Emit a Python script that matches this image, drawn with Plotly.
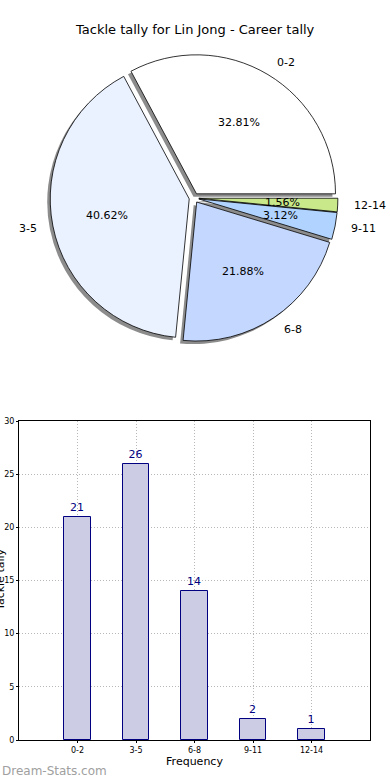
import math
import plotly.graph_objects as go

# ---------------- data ----------------
categories = ["0-2", "3-5", "6-8", "9-11", "12-14"]
counts = [21, 26, 14, 2, 1]
pie_colors = ["#FFFFFF", "#EAF1FF", "#C4D8FF", "#B0D4FF", "#C8E88A"]
y_ticks = [0, 5, 10, 15, 20, 25, 30]

title_text = "Tackle tally for Lin Jong - Career tally"
x_title = "Frequency"
y_title = "Tackle tally"
watermark = "Dream-Stats.com"

# ---------------- layout geometry ----------------
W, H = 390, 780
PIE_CX, PIE_CY, PIE_R = 194, 198, 139
PULL = 0.035
SHADOW = 3
FONT = "DejaVu Sans"

half = PIE_R * (1 + PULL)
pie_dom_x = [(PIE_CX - half) / W, (PIE_CX + half) / W]
pie_dom_y = [1 - (PIE_CY + half) / H, 1 - (PIE_CY - half) / H]

total = sum(counts)
pct_text = [f"{c / total * 100:.2f}%" for c in counts]
# first slice starts at 3 o'clock and runs counter-clockwise
rotation = 90 - counts[0] / total * 360

fig = go.Figure()

# shadow pie
fig.add_trace(go.Pie(
    labels=categories, values=counts, sort=False, direction="counterclockwise",
    rotation=rotation, pull=[PULL] * len(counts),
    marker=dict(colors=["#8c8c8c"] * len(counts), line=dict(width=0)),
    textinfo="none", hoverinfo="skip", showlegend=False,
    domain=dict(x=[pie_dom_x[0] - SHADOW / W, pie_dom_x[1] - SHADOW / W],
                y=[pie_dom_y[0] - SHADOW / H, pie_dom_y[1] - SHADOW / H]),
))

# main pie
fig.add_trace(go.Pie(
    labels=categories, values=counts, sort=False, direction="counterclockwise",
    rotation=rotation, pull=[PULL] * len(counts),
    marker=dict(colors=pie_colors, line=dict(color="black", width=0.8)),
    textinfo="none", showlegend=False,
    domain=dict(x=pie_dom_x, y=pie_dom_y),
))

# labels for the pie, positioned from the data angles
cum = 0
for cat, c, pt in zip(categories, counts, pct_text):
    mid = (cum + c / 2) / total * 2 * math.pi
    cum += c
    ca, sa = math.cos(mid), math.sin(mid)
    rp = (0.6 + PULL) * PIE_R
    fig.add_annotation(
        x=(PIE_CX + rp * ca) / W, y=1 - (PIE_CY - rp * sa) / H,
        xref="paper", yref="paper", text=pt, showarrow=False,
        xanchor="center", yanchor="middle",
        font=dict(family=FONT, size=11, color="black"))
    rl = (1.1 + PULL) * PIE_R
    fig.add_annotation(
        x=(PIE_CX + rl * ca) / W, y=1 - (PIE_CY - rl * sa) / H,
        xref="paper", yref="paper", text=cat, showarrow=False,
        xanchor="left" if ca > 0 else "right", yanchor="middle",
        font=dict(family=FONT, size=11, color="black"))

# bar chart
fig.add_trace(go.Bar(
    x=list(range(len(categories))), y=counts, width=0.45,
    marker=dict(color="#CCCCE5", line=dict(color="#000080", width=1)),
    text=[str(c) for c in counts], textposition="outside",
    textfont=dict(family=FONT, size=11, color="#000080"),
    cliponaxis=False, showlegend=False,
))

fig.update_layout(
    width=W, height=H, margin=dict(l=0, r=0, t=0, b=0, autoexpand=False),
    paper_bgcolor="white", plot_bgcolor="white",
    font=dict(family=FONT, color="black"),
    bargap=0,
    xaxis=dict(
        domain=[19 / W, 370 / W], range=[-1, 5], automargin=False,
        tickmode="array", tickvals=list(range(len(categories))), ticktext=categories,
        tickfont=dict(size=8, family=FONT), ticks="outside", ticklen=2, tickcolor="black",
        showline=True, mirror=True, linecolor="black", linewidth=1,
        showgrid=True, gridcolor="#b8b8b8", griddash="1px,2px", gridwidth=1,
        zeroline=False, anchor="y",
        title=dict(text=x_title, font=dict(size=11, family=FONT), standoff=2),
    ),
    yaxis=dict(
        domain=[1 - 740 / H, 1 - 421 / H], range=[0, 30], automargin=False,
        tickmode="array", tickvals=y_ticks,
        tickfont=dict(size=8, family=FONT), ticks="outside", ticklen=2, tickcolor="black",
        showline=True, mirror=True, linecolor="black", linewidth=1,
        showgrid=True, gridcolor="#b8b8b8", griddash="1px,2px", gridwidth=1,
        zeroline=False, anchor="x",
    ),
)

fig.add_annotation(
    x=0.5, y=1 - 30 / H, xref="paper", yref="paper", text=title_text,
    showarrow=False, xanchor="center", yanchor="middle",
    font=dict(family=FONT, size=13, color="black"))

fig.add_annotation(
    x=0, y=1 - 580 / H, xref="paper", yref="paper", text=y_title,
    showarrow=False, textangle=-90, xanchor="center", yanchor="middle",
    font=dict(family=FONT, size=11, color="black"))

fig.add_annotation(
    x=0, y=0, xref="paper", yref="paper", text=watermark,
    showarrow=False, xanchor="left", yanchor="bottom",
    font=dict(family=FONT, size=12, color="#a0a0a0"))

fig.write_html(
    "out.html",
    config={"displayModeBar": False},
    post_script="document.body.style.margin='0';document.body.style.overflow='hidden';",
)
